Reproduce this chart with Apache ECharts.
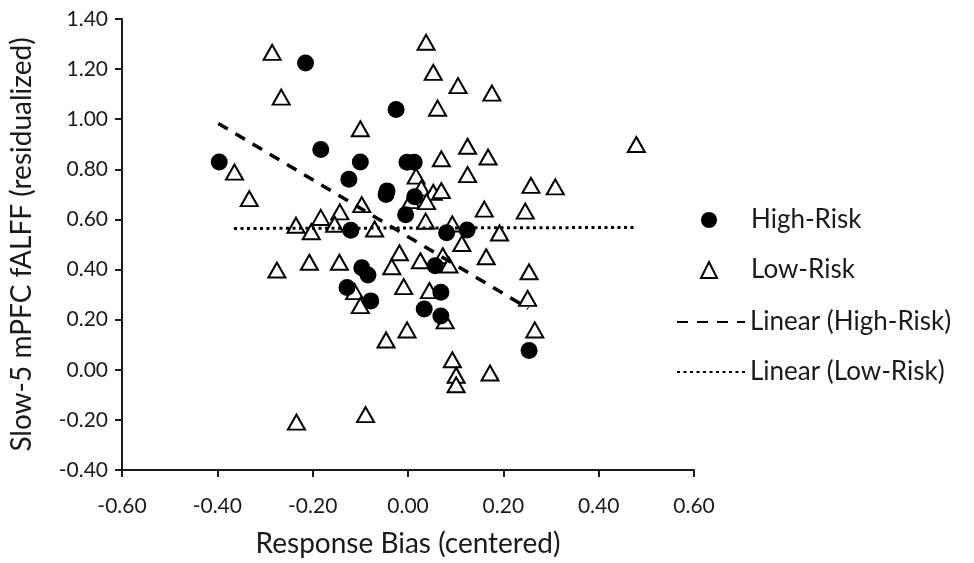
<!DOCTYPE html>
<html>
<head>
<meta charset="utf-8">
<script src="https://cdn.jsdelivr.net/npm/echarts@6/dist/echarts.min.js"></script>
<style>
  html, body { margin: 0; padding: 0; background: #fff; }
  #chart { width: 974px; height: 563px; }
</style>
</head>
<body>
<div id="chart"></div>
<script>
// High-Risk group (filled circles)
var hiX = [-0.215, -0.025, -0.183, -0.396, -0.100, -0.002, 0.013, -0.124, -0.044, -0.046, 0.014, -0.005,
           -0.120, 0.081, 0.124, -0.097, -0.084, -0.128, -0.078, 0.057, 0.069, 0.034, 0.069, 0.254];
var hiY = [1.224, 1.039, 0.879, 0.829, 0.829, 0.828, 0.828, 0.760, 0.714, 0.700, 0.691, 0.619,
           0.557, 0.547, 0.558, 0.407, 0.378, 0.328, 0.275, 0.415, 0.309, 0.243, 0.215, 0.077];

// Low-Risk group (open triangles)
var loX = [-0.285, -0.266, -0.100, -0.364, -0.333, -0.097, -0.143, -0.183, -0.154, -0.235, -0.203, -0.070,
           0.017, 0.006, 0.038, 0.053, 0.105, 0.176, 0.062, 0.479, 0.125, 0.070, 0.168, 0.125,
           0.258, 0.309, 0.028, 0.053, 0.070, 0.039, 0.160, 0.246, 0.037, 0.093, 0.192,
           -0.275, -0.207, -0.144, -0.018, -0.034, 0.026, -0.009, -0.112, -0.100, -0.002, -0.046,
           -0.089, -0.234, 0.113, 0.164, 0.073, 0.086, 0.254, 0.045, 0.251, 0.078, 0.266,
           0.093, 0.101, 0.101, 0.172];
var loY = [1.267, 1.088, 0.962, 0.789, 0.683, 0.659, 0.630, 0.608, 0.581, 0.577, 0.551, 0.562,
           0.773, 0.675, 1.307, 1.187, 1.134, 1.104, 1.044, 0.899, 0.892, 0.842, 0.849, 0.779,
           0.736, 0.730, 0.725, 0.708, 0.715, 0.671, 0.641, 0.633, 0.593, 0.582, 0.546,
           0.398, 0.429, 0.429, 0.467, 0.411, 0.435, 0.332, 0.312, 0.256, 0.159, 0.119,
           -0.179, -0.209, 0.504, 0.451, 0.455, 0.418, 0.391, 0.316, 0.285, 0.195, 0.159,
           0.040, -0.022, -0.060, -0.013];

// trendline end points
var hiTrendX = [-0.398, 0.252];
var hiTrendY = [0.983, 0.245];
var loTrendX = [-0.365, 0.477];
var loTrendY = [0.564, 0.568];

var xTicks = [-0.6, -0.4, -0.2, 0, 0.2, 0.4, 0.6];
var yTicks = [-0.4, -0.2, 0, 0.2, 0.4, 0.6, 0.8, 1.0, 1.2, 1.4];

function pairs(xs, ys) {
  var out = [];
  for (var i = 0; i < xs.length; i++) out.push([xs[i], ys[i]]);
  return out;
}

var font = 'Lato';
var ink = '#1a1a1a';

var chart = echarts.init(document.getElementById('chart'));
var option = {
  animation: false,
  backgroundColor: '#fff',
  grid: { left: 121, right: 280, top: 19, bottom: 91 },
  xAxis: {
    type: 'value',
    min: xTicks[0],
    max: xTicks[xTicks.length - 1],
    interval: 0.2,
    name: 'Response Bias (centered)',
    nameLocation: 'middle',
    nameGap: 60,
    nameTextStyle: { fontFamily: font, fontSize: 28, color: ink },
    axisLine: { onZero: false, lineStyle: { color: ink, width: 2 } },
    axisTick: { show: true, length: 7, lineStyle: { color: ink, width: 2 } },
    axisLabel: { margin: 26, fontFamily: font, fontSize: 21, color: ink,
                 formatter: function (v) { return v.toFixed(2); } },
    splitLine: { show: false }
  },
  yAxis: {
    type: 'value',
    min: yTicks[0],
    max: yTicks[yTicks.length - 1],
    interval: 0.2,
    name: 'Slow-5 mPFC fALFF (residualized)',
    nameLocation: 'middle',
    nameGap: 86,
    nameTextStyle: { fontFamily: font, fontSize: 28, color: ink },
    axisLine: { onZero: false, lineStyle: { color: ink, width: 2 } },
    axisTick: { show: true, length: 7, lineStyle: { color: ink, width: 2 } },
    axisLabel: { margin: 14, fontFamily: font, fontSize: 21, color: ink,
                 formatter: function (v) { return v.toFixed(2); } },
    splitLine: { show: false }
  },
  legend: [
    {
      orient: 'vertical',
      left: 695,
      top: 202,
      itemWidth: 16,
      itemHeight: 16,
      itemGap: 24,
      textStyle: { fontFamily: font, fontSize: 26, color: ink, padding: [0, 0, 0, 29] },
      data: ['High-Risk', 'Low-Risk']
    },
    {
      orient: 'vertical',
      left: 671,
      top: 304,
      itemWidth: 68,
      itemHeight: 16,
      itemGap: 24,
      textStyle: { fontFamily: font, fontSize: 26, color: ink },
      data: [
        { name: 'Linear (High-Risk)', itemStyle: { opacity: 0 } },
        { name: 'Linear (Low-Risk)', itemStyle: { opacity: 0 } }
      ]
    }
  ],
  series: [
    {
      name: 'Low-Risk',
      type: 'scatter',
      symbol: 'triangle',
      symbolSize: [17, 15],
      itemStyle: { color: '#fff', borderColor: '#000', borderWidth: 2, opacity: 1 },
      data: pairs(loX, loY),
      z: 2
    },
    {
      name: 'High-Risk',
      type: 'scatter',
      symbol: 'circle',
      symbolSize: 17,
      itemStyle: { color: '#000', opacity: 1 },
      data: pairs(hiX, hiY),
      z: 3
    },
    {
      name: 'Linear (High-Risk)',
      type: 'line',
      symbol: 'none',
      lineStyle: { color: '#000', width: 3.5, type: [11, 9] },
      data: pairs(hiTrendX, hiTrendY),
      z: 4
    },
    {
      name: 'Linear (Low-Risk)',
      type: 'line',
      symbol: 'none',
      lineStyle: { color: '#000', width: 3, type: [3, 3.5] },
      data: pairs(loTrendX, loTrendY),
      z: 4
    }
  ]
};
chart.setOption(option);
</script>
</body>
</html>
